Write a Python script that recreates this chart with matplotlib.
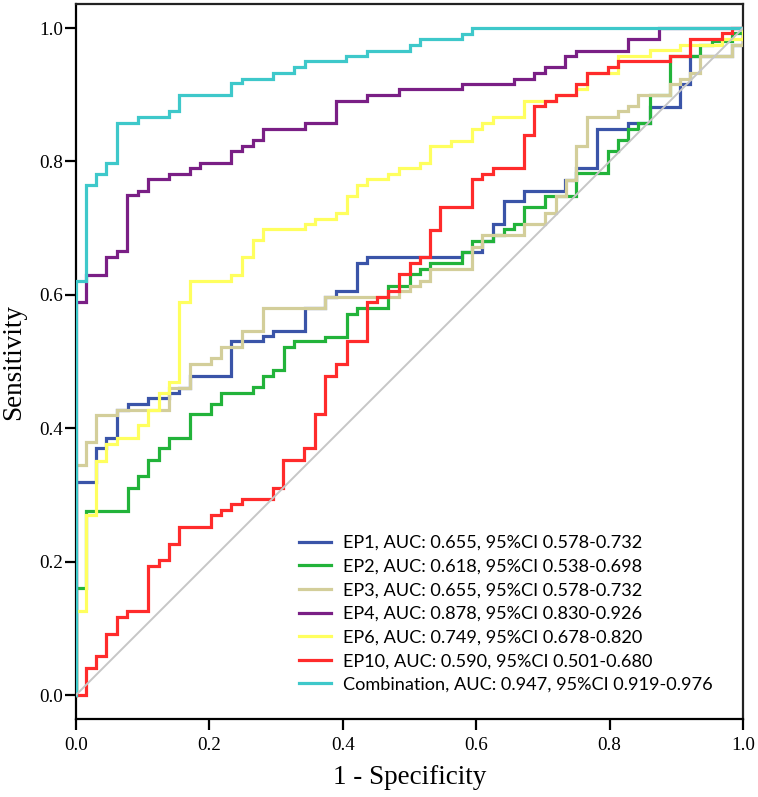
import matplotlib
matplotlib.use("Agg")
import matplotlib.pyplot as plt

# ---------------- data (ROC corner points, steps-post) ----------------
labels = [
    "EP1, AUC: 0.655, 95%CI 0.578-0.732",
    "EP2, AUC: 0.618, 95%CI 0.538-0.698",
    "EP3, AUC: 0.655, 95%CI 0.578-0.732",
    "EP4, AUC: 0.878, 95%CI 0.830-0.926",
    "EP6, AUC: 0.749, 95%CI 0.678-0.820",
    "EP10, AUC: 0.590, 95%CI 0.501-0.680",
    "Combination, AUC: 0.947, 95%CI 0.919-0.976",
]

fpr_ep1 = [0, 0, 0.030, 0.045, 0.061, 0.0775, 0.108, 0.140, 0.155, 0.171,
           0.233, 0.281, 0.296, 0.343, 0.374, 0.390, 0.421, 0.437, 0.578, 0.609,
           0.625, 0.641, 0.672, 0.733, 0.750, 0.781, 0.828, 0.860, 0.906, 0.921,
           0.984, 1.0]
tpr_ep1 = [0, 0.319, 0.370, 0.386, 0.428, 0.437, 0.445, 0.453, 0.461, 0.478,
           0.530, 0.538, 0.546, 0.580, 0.597, 0.605, 0.647, 0.656, 0.664, 0.680,
           0.706, 0.740, 0.756, 0.772, 0.790, 0.849, 0.857, 0.882, 0.916, 0.958,
           0.975, 1.0]

fpr_ep2 = [0, 0, 0.0145, 0.0775, 0.0925, 0.108, 0.124, 0.140, 0.171, 0.202,
           0.218, 0.265, 0.281, 0.296, 0.312, 0.327, 0.374, 0.406, 0.421, 0.468,
           0.500, 0.515, 0.531, 0.578, 0.593, 0.625, 0.641, 0.656, 0.672, 0.703,
           0.750, 0.797, 0.812, 0.828, 0.843, 0.860, 0.891, 0.936, 0.953, 0.984,
           1.0]
tpr_ep2 = [0, 0.160, 0.276, 0.311, 0.328, 0.353, 0.370, 0.386, 0.421, 0.437,
           0.453, 0.462, 0.478, 0.488, 0.521, 0.530, 0.537, 0.571, 0.580, 0.613,
           0.631, 0.639, 0.647, 0.664, 0.681, 0.690, 0.698, 0.706, 0.731, 0.748,
           0.782, 0.815, 0.832, 0.849, 0.857, 0.899, 0.958, 0.975, 0.981, 0.992,
           1.0]

fpr_ep3 = [0, 0, 0.0145, 0.030, 0.061, 0.140, 0.171, 0.202, 0.218, 0.249,
           0.281, 0.374, 0.484, 0.500, 0.515, 0.531, 0.593, 0.609, 0.672, 0.703,
           0.719, 0.735, 0.750, 0.766, 0.812, 0.828, 0.843, 0.891, 0.906, 0.921,
           0.936, 0.984, 1.0]
tpr_ep3 = [0, 0.345, 0.379, 0.420, 0.428, 0.461, 0.496, 0.505, 0.521, 0.546,
           0.580, 0.597, 0.605, 0.613, 0.621, 0.639, 0.672, 0.690, 0.706, 0.723,
           0.748, 0.772, 0.823, 0.866, 0.875, 0.883, 0.899, 0.916, 0.924, 0.933,
           0.958, 0.975, 1.0]

fpr_ep4 = [0, 0, 0.0145, 0.045, 0.061, 0.077, 0.0925, 0.108, 0.139, 0.171,
           0.186, 0.233, 0.249, 0.265, 0.281, 0.343, 0.390, 0.437, 0.484, 0.578,
           0.656, 0.687, 0.703, 0.733, 0.750, 0.828, 0.874, 1.0]
tpr_ep4 = [0, 0.589, 0.630, 0.656, 0.665, 0.749, 0.756, 0.773, 0.781, 0.790,
           0.798, 0.815, 0.823, 0.832, 0.849, 0.857, 0.891, 0.900, 0.908, 0.916,
           0.924, 0.933, 0.941, 0.958, 0.966, 0.983, 1.0, 1.0]

fpr_ep6 = [0, 0, 0.0145, 0.030, 0.045, 0.061, 0.0925, 0.108, 0.124, 0.140,
           0.155, 0.171, 0.233, 0.249, 0.265, 0.281, 0.343, 0.358, 0.390, 0.406,
           0.422, 0.437, 0.468, 0.484, 0.515, 0.531, 0.562, 0.593, 0.609, 0.625,
           0.672, 0.719, 0.750, 0.766, 0.812, 0.860, 0.906, 0.968, 1.0]
tpr_ep6 = [0, 0.126, 0.270, 0.351, 0.377, 0.386, 0.405, 0.428, 0.453, 0.470,
           0.589, 0.621, 0.630, 0.656, 0.682, 0.698, 0.706, 0.714, 0.723, 0.748,
           0.765, 0.773, 0.781, 0.790, 0.798, 0.823, 0.831, 0.849, 0.857, 0.866,
           0.891, 0.899, 0.908, 0.933, 0.958, 0.967, 0.975, 0.983, 1.0]

fpr_ep10 = [0, 0.0145, 0.030, 0.045, 0.061, 0.077, 0.108, 0.124, 0.139, 0.155,
            0.202, 0.218, 0.233, 0.249, 0.296, 0.311, 0.342, 0.358, 0.374, 0.390,
            0.406, 0.437, 0.452, 0.468, 0.484, 0.500, 0.515, 0.531, 0.546, 0.593,
            0.609, 0.625, 0.672, 0.687, 0.703, 0.719, 0.750, 0.766, 0.797, 0.812,
            0.891, 0.921, 0.968, 0.984, 1.0]
tpr_ep10 = [0, 0.041, 0.059, 0.092, 0.117, 0.126, 0.193, 0.202, 0.227, 0.252,
            0.270, 0.277, 0.286, 0.294, 0.311, 0.353, 0.370, 0.421, 0.479, 0.496,
            0.530, 0.589, 0.597, 0.605, 0.631, 0.647, 0.656, 0.697, 0.731, 0.773,
            0.781, 0.790, 0.840, 0.883, 0.891, 0.899, 0.916, 0.933, 0.941, 0.950,
            0.958, 0.983, 0.992, 1.0, 1.0]

fpr_comb = [0, 0, 0.0145, 0.0295, 0.045, 0.061, 0.0925, 0.139, 0.154, 0.233,
            0.249, 0.296, 0.327, 0.343, 0.405, 0.437, 0.500, 0.515, 0.578, 0.593,
            1.0]
tpr_comb = [0, 0.621, 0.765, 0.781, 0.798, 0.857, 0.866, 0.875, 0.899, 0.917,
            0.924, 0.933, 0.941, 0.950, 0.958, 0.966, 0.975, 0.983, 0.991, 1.0,
            1.0]

colors = ["#3a54a8", "#22b33a", "#d3ce9a", "#7a1f85", "#ffff5e", "#ff2b2b", "#3ec8ca"]
x_ticks = [0.0, 0.2, 0.4, 0.6, 0.8, 1.0]
y_ticks = [0.0, 0.2, 0.4, 0.6, 0.8, 1.0]
x_label = "1 - Specificity"
y_label = "Sensitivity"

series = [
    (fpr_ep1, tpr_ep1), (fpr_ep2, tpr_ep2), (fpr_ep3, tpr_ep3),
    (fpr_ep4, tpr_ep4), (fpr_ep6, tpr_ep6), (fpr_ep10, tpr_ep10),
    (fpr_comb, tpr_comb),
]

# ---------------- figure ----------------
W, H = 758, 797
fig = plt.figure(figsize=(W / 100, H / 100), dpi=100)
ax_l, ax_r, ax_t, ax_b = 76, 743, 4, 719
ax = fig.add_axes([ax_l / W, 1 - ax_b / H, (ax_r - ax_l) / W, (ax_b - ax_t) / H])

ymin = -24 / 667
ymax = 1 + 24 / 667
ax.set_xlim(0, 1)
ax.set_ylim(ymin, ymax)

for (fx, ty), col, lab in zip(series, colors, labels):
    assert len(fx) == len(ty)
    ax.plot(fx, ty, drawstyle="steps-post", color=col, lw=2.3, label=lab,
            solid_joinstyle="miter", zorder=3)

ax.plot([0, 1], [0, 1], color="#c6c6c6", lw=1.4, zorder=4)

serif = "Liberation Serif"
ax.set_xticks(x_ticks)
ax.set_yticks(y_ticks)
ax.set_xticklabels([f"{v:.1f}" for v in x_ticks], fontfamily=serif, fontsize=13.8)
ax.set_yticklabels([f"{v:.1f}" for v in y_ticks], fontfamily=serif, fontsize=13.8)
ax.tick_params(axis="both", direction="out", length=8, width=1.6, color="black")
ax.tick_params(axis="x", pad=5)
ax.tick_params(axis="y", pad=1)
for sp in ax.spines.values():
    sp.set_linewidth(1.6)
    sp.set_color("black")
ax.spines["top"].set_color("#222222")
ax.spines["right"].set_color("#222222")

ax.set_xlabel(x_label, fontfamily=serif, fontsize=19.5, va="center")
ax.set_ylabel(y_label, fontfamily=serif, fontsize=19.5, va="center")
ax.xaxis.set_label_coords(0.5, (ax_b - 778) / (ax_b - ax_t))
ax.yaxis.set_label_coords((14 - ax_l) / (ax_r - ax_l), 0.5)

leg = ax.legend(loc="upper left", bbox_to_anchor=(299 / W, 1 - 535 / H),
                bbox_transform=fig.transFigure, frameon=False,
                prop={"family": "Lato", "size": 13.1},
                handlelength=1.76, handletextpad=0.68, labelspacing=0.42,
                borderpad=0, borderaxespad=0)
for lh in leg.get_lines():
    lh.set_linewidth(2.3)

fig.savefig("out.png", dpi=100)
